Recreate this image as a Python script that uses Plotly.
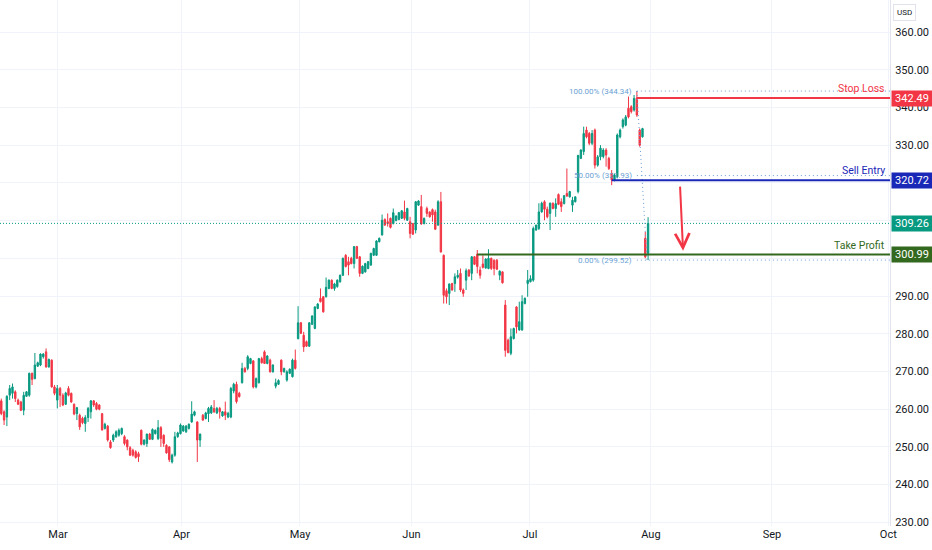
import plotly.graph_objects as go

# 4H candles (one row per bar, oldest first)
OPEN = [262.2, 259.3, 257.9, 263.7, 264.2, 264.6, 262.4, 261.9, 259.7, 263.4,
        263.7, 269.5, 268.1, 271.4, 271.7, 273.9, 275.2, 271.2, 273.0, 265.9,
        262.4, 265.5, 263.7, 261.3, 265.5, 264.2, 261.3, 258.8, 258.4, 257.6,
        256.2, 257.8, 259.3, 262.2, 261.5, 261.1, 258.8, 254.9, 255.5, 251.3,
        251.8, 252.7, 253.1, 253.5, 252.7, 251.8, 249.8, 249.1, 248.7, 248.2,
        254.4, 250.7, 250.9, 253.4, 252.0, 253.5, 252.2, 255.1, 253.1, 250.4,
        250.0, 246.0, 247.8, 252.7, 253.5, 254.2, 254.0, 254.9, 256.6, 258.4,
        256.6, 251.8, 258.4, 257.5, 258.8, 259.0, 260.2, 259.0, 260.2, 258.2,
        259.3, 257.9, 257.9, 264.8, 266.6, 264.2, 267.0, 270.8, 270.8, 272.1,
        272.8, 265.9, 267.0, 273.4, 275.2, 272.1, 273.0, 269.9, 266.1, 266.6,
        273.0, 269.9, 267.7, 269.5, 268.6, 273.0, 278.7, 282.9, 279.6, 277.9,
        276.7, 282.5, 281.4, 286.7, 289.4, 289.8, 289.8, 292.0, 294.2, 292.0,
        292.5, 293.8, 295.5, 300.8, 299.1, 300.0, 298.6, 303.1, 300.4, 296.0,
        296.4, 297.3, 298.2, 300.8, 300.8, 304.4, 306.2, 310.3, 309.7, 310.6,
        309.2, 310.0, 310.3, 310.6, 312.3, 310.1, 309.7, 309.2, 307.5, 314.1,
        313.7, 309.2, 313.2, 312.3, 312.9, 312.3, 308.8, 315.0, 300.8, 291.4,
        290.7, 293.3, 293.3, 295.0, 296.0, 291.6, 294.2, 296.9, 296.0, 300.4,
        301.1, 296.9, 298.5, 297.4, 297.3, 300.0, 299.5, 299.5, 295.5, 296.4,
        287.6, 278.3, 274.8, 278.7, 287.1, 281.0, 281.0, 288.0, 293.3, 293.8,
        294.2, 307.5, 307.9, 312.3, 315.0, 313.0, 311.9, 314.6, 313.2, 316.9,
        315.0, 314.5, 317.2, 316.3, 314.1, 315.0, 317.7, 326.5, 328.3, 334.0,
        333.1, 330.5, 334.0, 324.7, 326.9, 327.0, 328.7, 326.5, 322.5, 320.8,
        321.6, 332.2, 334.9, 335.3, 339.8, 340.2, 339.3, 342.49, 334.0, 332.2,
        305.3, 301.3]
HIGH = [262.8, 259.7, 263.7, 266.4, 266.8, 265.0, 262.8, 262.2, 264.6, 264.8,
        269.7, 269.7, 274.9, 272.6, 274.8, 274.9, 276.1, 273.4, 273.2, 266.4,
        266.4, 265.9, 264.2, 264.6, 266.1, 264.4, 261.5, 260.6, 258.8, 258.0,
        258.4, 260.6, 262.4, 262.4, 261.9, 261.3, 259.0, 256.4, 255.8, 251.8,
        253.5, 254.4, 254.9, 255.1, 253.1, 252.0, 250.2, 249.5, 249.1, 248.7,
        254.6, 252.0, 253.5, 253.7, 254.9, 254.6, 257.1, 255.5, 253.3, 250.7,
        250.2, 248.2, 254.0, 254.0, 256.2, 255.8, 255.8, 256.2, 262.1, 259.6,
        256.8, 253.5, 258.7, 259.3, 260.6, 261.1, 262.4, 260.6, 260.6, 259.5,
        262.0, 259.3, 265.9, 267.0, 267.3, 264.6, 272.3, 271.2, 274.3, 273.6,
        273.0, 268.4, 273.6, 273.9, 275.6, 274.3, 273.4, 271.9, 268.1, 267.9,
        273.2, 271.0, 270.3, 270.8, 273.4, 275.8, 287.3, 283.1, 280.5, 278.2,
        283.1, 284.9, 287.3, 288.1, 292.0, 290.0, 294.9, 294.4, 294.4, 293.5,
        294.4, 295.7, 300.2, 301.1, 300.4, 300.4, 303.2, 303.3, 300.6, 298.1,
        298.8, 299.3, 301.5, 302.8, 304.8, 305.5, 311.6, 310.6, 311.9, 310.8,
        313.2, 311.4, 312.3, 312.8, 315.3, 313.4, 311.0, 309.4, 315.2, 315.4,
        316.8, 310.8, 313.7, 312.4, 313.2, 312.9, 315.4, 317.6, 301.0, 292.0,
        293.3, 293.5, 296.0, 296.9, 297.3, 292.0, 297.3, 297.1, 300.6, 300.6,
        302.2, 297.8, 300.8, 300.0, 302.4, 300.2, 299.7, 299.8, 296.8, 296.6,
        288.9, 278.7, 281.4, 281.6, 287.3, 288.5, 290.2, 289.6, 296.9, 295.5,
        308.4, 308.9, 314.6, 315.0, 315.4, 313.7, 314.8, 314.8, 315.9, 317.2,
        315.9, 316.8, 323.8, 317.9, 316.3, 316.4, 327.4, 328.9, 334.9, 334.9,
        333.5, 334.0, 334.4, 327.4, 330.0, 329.2, 329.2, 326.9, 323.4, 322.5,
        333.1, 334.4, 337.1, 338.0, 342.9, 340.6, 343.3, 344.34, 334.4, 334.6,
        307.0, 310.9]
LOW = [258.4, 255.8, 255.5, 262.4, 262.8, 261.9, 261.1, 259.5, 258.4, 263.3,
       263.3, 266.4, 267.9, 271.2, 271.4, 273.4, 271.0, 271.0, 265.7, 263.7,
       260.2, 260.6, 260.8, 261.1, 263.4, 261.7, 258.4, 257.1, 254.5, 256.0,
       254.0, 256.6, 257.5, 260.6, 259.7, 259.7, 254.3, 254.6, 251.4, 249.5,
       251.3, 252.4, 252.7, 253.1, 250.4, 249.1, 247.6, 247.4, 246.9, 246.0,
       250.4, 250.4, 250.0, 251.9, 251.8, 253.3, 251.8, 250.0, 250.0, 248.2,
       246.0, 245.6, 247.4, 252.4, 253.3, 254.0, 253.7, 254.6, 256.4, 258.1,
       246.0, 250.0, 256.9, 257.3, 256.6, 258.7, 259.0, 258.7, 257.5, 258.0,
       257.1, 257.6, 257.6, 264.2, 261.5, 263.1, 266.8, 269.7, 270.3, 271.9,
       265.5, 265.5, 266.8, 272.1, 272.0, 271.9, 269.7, 269.7, 265.5, 266.4,
       269.0, 269.7, 267.3, 269.3, 268.4, 270.5, 278.5, 279.9, 275.2, 276.5,
       276.5, 282.3, 281.2, 286.5, 288.3, 285.6, 289.6, 291.8, 291.8, 291.4,
       292.2, 293.5, 295.3, 297.6, 295.5, 298.4, 297.3, 299.8, 295.1, 295.8,
       296.2, 297.1, 298.0, 300.6, 300.6, 304.2, 306.0, 308.6, 308.4, 307.9,
       309.0, 309.8, 310.1, 310.4, 310.1, 309.9, 305.3, 306.2, 306.6, 313.9,
       308.9, 309.0, 311.0, 310.8, 309.7, 307.5, 308.6, 301.5, 288.0, 288.0,
       287.6, 291.4, 291.1, 294.6, 291.1, 289.8, 291.6, 295.1, 294.2, 298.2,
       296.0, 294.6, 297.3, 297.3, 297.1, 296.9, 295.5, 296.9, 294.2, 293.3,
       273.9, 274.8, 274.3, 278.5, 280.1, 280.8, 280.8, 287.8, 289.8, 293.6,
       293.8, 307.3, 307.5, 312.1, 310.1, 310.6, 307.5, 313.0, 311.0, 314.1,
       312.3, 314.3, 316.3, 316.1, 312.3, 314.8, 317.2, 326.3, 327.4, 331.8,
       330.0, 330.0, 323.8, 324.3, 326.0, 326.5, 324.3, 323.4, 319.4, 320.4,
       321.2, 331.8, 334.4, 335.0, 337.1, 338.4, 338.9, 337.5, 329.6, 332.0,
       300.0, 299.52]
CLOSE = [258.8, 257.1, 263.4, 265.5, 265.9, 262.8, 261.3, 259.7, 263.7, 264.6,
         269.5, 267.9, 271.7, 272.3, 274.6, 274.6, 271.2, 273.2, 265.9, 264.2,
         265.5, 263.7, 261.1, 264.3, 263.7, 261.9, 258.7, 260.4, 255.3, 256.4,
         257.8, 260.2, 262.2, 261.1, 260.0, 260.0, 254.5, 256.0, 251.8, 249.8,
         253.1, 254.0, 254.4, 254.9, 250.9, 250.0, 247.8, 247.8, 247.2, 247.4,
         250.7, 251.8, 253.4, 252.0, 254.6, 254.4, 255.1, 252.2, 250.9, 248.4,
         246.6, 247.8, 252.7, 253.7, 255.8, 255.5, 255.5, 256.0, 258.7, 259.3,
         251.8, 253.4, 257.1, 259.0, 260.2, 260.6, 259.3, 260.2, 259.3, 259.3,
         258.4, 258.9, 265.5, 266.6, 262.0, 263.3, 270.8, 269.9, 273.9, 273.4,
         265.9, 268.1, 273.4, 272.3, 272.1, 274.1, 269.9, 271.7, 267.0, 267.6,
         269.9, 270.8, 269.9, 270.6, 273.0, 270.8, 282.9, 280.1, 276.5, 276.7,
         282.9, 284.7, 287.1, 287.9, 288.5, 285.8, 292.3, 294.2, 292.0, 293.2,
         294.2, 295.5, 300.0, 297.8, 298.2, 298.6, 303.1, 300.0, 296.0, 297.9,
         298.6, 299.1, 301.3, 302.6, 304.6, 305.3, 310.1, 308.8, 309.2, 308.2,
         312.1, 311.2, 312.1, 312.6, 310.6, 313.2, 306.6, 306.4, 315.0, 315.2,
         309.1, 310.6, 311.9, 311.0, 311.5, 307.7, 315.0, 301.7, 290.2, 289.8,
         293.2, 291.6, 295.1, 295.5, 291.6, 290.7, 296.7, 295.3, 300.4, 298.4,
         297.8, 295.5, 297.6, 299.8, 300.0, 297.3, 297.3, 297.1, 296.6, 293.5,
         275.6, 275.0, 279.2, 281.4, 281.8, 283.2, 288.5, 289.4, 294.2, 294.6,
         307.9, 308.8, 312.3, 314.6, 313.0, 311.0, 314.6, 313.2, 314.5, 314.3,
         313.7, 316.6, 316.5, 317.7, 315.4, 316.3, 327.3, 328.7, 333.1, 332.2,
         330.5, 333.1, 324.7, 326.9, 329.2, 328.7, 327.4, 323.8, 320.8, 322.1,
         332.7, 334.0, 336.7, 337.5, 337.5, 338.9, 342.4, 338.0, 330.0, 334.4,
         300.4, 309.26]

MONTHS = ["Mar", "Apr", "May", "Jun", "Jul", "Aug", "Sep", "Oct"]
MONTH_BARS = [20.25, 64.36, 106.68, 146.5, 188.8, 232.0, 275.25, 316.8]

PRICE_TICKS = list(range(230, 361, 10))
# 300, 310 and 320 sit under the price tags, so they carry no label
PRICE_LABELS = ["" if v in (300, 310, 320) else f"{v:.2f}" for v in PRICE_TICKS]

LAST_PRICE = 309.26
STOP_LOSS = 342.49
SELL_ENTRY = 320.72
TAKE_PROFIT = 300.99
FIB_LEVELS = [("100.00%", 344.34), ("50.00%", 321.93), ("0.00%", 299.52)]

UP = "#089981"
DOWN = "#f23645"
BLUE = "#1a28b8"
GREEN = "#33691e"
FIB = "#6a9fd4"
FONT = "Roboto"

bars = list(range(len(CLOSE)))
X_MAX = 317.4

fig = go.Figure(go.Candlestick(
    x=bars, open=OPEN, high=HIGH, low=LOW, close=CLOSE,
    increasing=dict(line=dict(color=UP, width=1), fillcolor=UP),
    decreasing=dict(line=dict(color=DOWN, width=1), fillcolor=DOWN),
    whiskerwidth=0, hoverinfo="skip",
))

shapes = []
# last price dotted line
shapes.append(dict(type="line", xref="paper", x0=0, x1=1, y0=LAST_PRICE, y1=LAST_PRICE,
                   line=dict(color=UP, width=1, dash="1px,2px")))
# fib levels (dotted) from the swing high bar
for name, lvl in FIB_LEVELS:
    shapes.append(dict(type="line", x0=227, x1=X_MAX, y0=lvl, y1=lvl,
                       line=dict(color=FIB, width=1, dash="1px,3px")))
shapes.append(dict(type="line", x0=227, x1=230.6, y0=FIB_LEVELS[0][1], y1=FIB_LEVELS[2][1],
                   line=dict(color=FIB, width=1, dash="1px,3px")))
# trade levels
shapes.append(dict(type="line", x0=227, x1=X_MAX, y0=STOP_LOSS, y1=STOP_LOSS,
                   line=dict(color=DOWN, width=2)))
shapes.append(dict(type="line", x0=218, x1=X_MAX, y0=SELL_ENTRY, y1=SELL_ENTRY,
                   line=dict(color=BLUE, width=2)))
shapes.append(dict(type="line", x0=170, x1=X_MAX, y0=TAKE_PROFIT, y1=TAKE_PROFIT,
                   line=dict(color=GREEN, width=2)))

ann = []
for name, lvl in FIB_LEVELS:
    ann.append(dict(x=227, y=lvl, xanchor="right", yanchor="middle", xshift=-3,
                    text=f"{name} ({lvl:.2f})", showarrow=False,
                    font=dict(family=FONT, size=8, color=FIB)))
for txt, lvl, col in [("Stop Loss", STOP_LOSS, DOWN), ("Sell Entry", SELL_ENTRY, BLUE),
                      ("Take Profit", TAKE_PROFIT, GREEN)]:
    ann.append(dict(x=X_MAX, y=lvl, xanchor="right", yanchor="bottom", xshift=-3, yshift=1,
                    text=txt, showarrow=False, font=dict(family=FONT, size=10.5, color=col)))
# price tags on the axis
for lvl, col in [(STOP_LOSS, DOWN), (SELL_ENTRY, BLUE), (LAST_PRICE, UP), (TAKE_PROFIT, GREEN)]:
    ann.append(dict(xref="paper", x=1, y=lvl, xanchor="left", yanchor="middle", xshift=1,
                    text=f"{lvl:.2f}", showarrow=False, bgcolor=col, borderpad=1, width=38,
                    font=dict(family=FONT, size=11, color="white")))
# red arrow down toward take profit
ann.append(dict(x=243.5, y=302.0, ax=242.4, ay=319.4, axref="x", ayref="y",
                text="", showarrow=True, arrowhead=5, arrowsize=1.4, arrowwidth=2,
                arrowcolor=DOWN))
ann.append(dict(xref="paper", yref="paper", x=1, y=1, xanchor="left", yanchor="top",
                xshift=3, yshift=-4, text="USD", showarrow=False, bgcolor="white",
                bordercolor="#e0e3eb", borderwidth=1, borderpad=3,
                font=dict(family=FONT, size=8, color="#131722")))

fig.update_layout(
    width=932, height=550,
    margin=dict(l=0, r=42, t=0, b=24),
    paper_bgcolor="white", plot_bgcolor="white",
    showlegend=False, shapes=shapes, annotations=ann,
    font=dict(family=FONT, size=11, color="#131722"),
    xaxis=dict(range=[-0.46, X_MAX], tickvals=MONTH_BARS, ticktext=MONTHS,
               showgrid=True, gridcolor="#f0f3fa", zeroline=False,
               rangeslider=dict(visible=False), ticks="", fixedrange=True),
    yaxis=dict(side="right", range=[229.02, 368.49], tickvals=PRICE_TICKS,
               ticktext=PRICE_LABELS,
               showgrid=True, gridcolor="#f0f3fa", zeroline=False, ticks="",
               showline=True, linecolor="#e0e3eb", linewidth=1,
               ticklabelstandoff=2, fixedrange=True),
)

# the page's default body margin would shift the chart; drop it
fig.write_html("out.html", config={"displayModeBar": False, "staticPlot": True},
               post_script="document.body.style.margin='0px';")
